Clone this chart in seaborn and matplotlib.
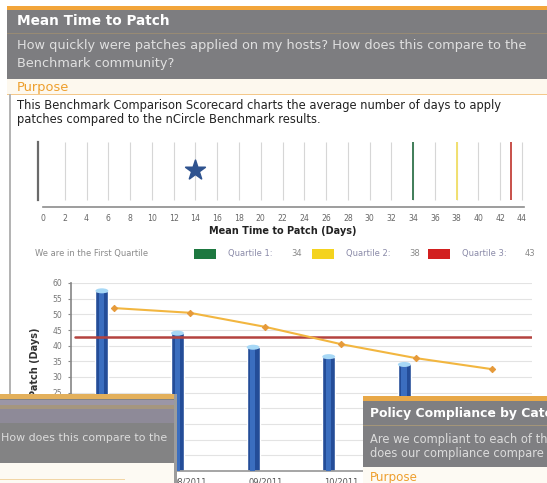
import matplotlib
matplotlib.use("Agg")
import matplotlib.pyplot as plt
from matplotlib.patches import Rectangle, Ellipse
import numpy as np
import pandas as pd
import seaborn as sns

sns.set_theme(style="white")
plt.rcParams['font.family'] = ['DejaVu Sans']

# ---- benchmark scale (days) ----
scale_ticks = list(range(0, 45, 2))
our_mean_days = 14
quartile_labels = ["Quartile 1:", "Quartile 2:", "Quartile 3:"]
quartile_days = [34, 38, 43]
quartile_swatch = ["#1d7840", "#f4d31e", "#d21f1f"]
quartile_line = ["#3f7d58", "#f1e070", "#c8504a"]

# ---- monthly trend ----
periods = ["07/2011", "08/2011", "09/2011", "10/2011", "11/2011", "12/2011"]
host_days = [57.5, 44, 39.5, 36.5, 34]
benchmark_days = [52, 50.5, 46, 40.5, 36, 32.5]
benchmark_q3 = 42.8
y_ticks = list(range(0, 65, 5))

W, H = 547, 483
fig = plt.figure(figsize=(W / 100, H / 100), dpi=100)
fig.patch.set_facecolor("white")

# screen areas covered by the two overlapping report windows (x0, x1, y0)
windows = [(0, 176.5, 394), (363, 547, 396)]


def px_axes(left, top, right, bottom, **kw):
    return fig.add_axes([left / W, 1 - bottom / H, (right - left) / W, (bottom - top) / H], **kw)


def canvas(z):
    ax = fig.add_axes([0, 0, 1, 1], zorder=z)
    ax.set_xlim(0, W)
    ax.set_ylim(H, 0)
    ax.axis("off")
    ax.patch.set_alpha(0)
    return ax


# ---------------- report page ----------------
bg = canvas(0)
bg.add_patch(Rectangle((7, 6), 540, 4, color="#f2a53a", lw=0))
bg.add_patch(Rectangle((7, 10), 540, 69, color="#7d7d80", lw=0))
bg.add_patch(Rectangle((7, 33), 540, 1.2, color="#978a74", lw=0))
bg.add_patch(Rectangle((7, 79), 540, 15, color="#fdf8ee", lw=0))
bg.add_patch(Rectangle((7, 93.5), 540, 1.2, color="#f4c88a", lw=0))
bg.add_patch(Rectangle((9, 94), 2, 389, color="#b4b4b4", lw=0))

bg.text(17, 21, "Mean Time to Patch", color="white", fontweight="bold", fontsize=9.8, va="center")
bg.text(17, 46, "How quickly were patches applied on my hosts? How does this compare to the",
        color="#e0e0e0", fontsize=9.3, va="center")
bg.text(17, 63, "Benchmark community?", color="#e0e0e0", fontsize=9.3, va="center")
bg.text(17, 87, "Purpose", color="#ee9f2e", fontsize=9.4, va="center")
bg.text(17, 105, "This Benchmark Comparison Scorecard charts the average number of days to apply",
        color="#222222", fontsize=8.3, va="center")
bg.text(17, 119, "patches compared to the nCircle Benchmark results.",
        color="#222222", fontsize=8.3, va="center")

# legend row
bg.text(35, 256, "We are in the First Quartile", color="#8a8a8a", fontsize=6, va="baseline")
sw_x = [194, 312, 428]
for lab, val, col, x0 in zip(quartile_labels, quartile_days, quartile_swatch, sw_x):
    bg.add_patch(Rectangle((x0, 249), 22, 10, color=col, lw=0))
    bg.text(x0 + 34, 256, lab, color="#8a8aa8", fontsize=6, va="baseline")
    bg.text(x0 + 97, 256, str(val), color="#8a8a8a", fontsize=6, va="baseline")

# ---------------- benchmark scale ----------------
unit = (522 - 43) / 44.0
sx = px_axes(43 - 0.5 * unit, 142, 43 + 44.5 * unit, 207, zorder=1)
sx.set_xlim(-0.5, 44.5)
sx.set_ylim(0, 1)
sx.patch.set_alpha(0)
for s in ["top", "right"]:
    sx.spines[s].set_visible(False)
sx.spines["bottom"].set_bounds(0, 44.2)
sx.spines["bottom"].set_color("#8c8c8c")
sx.spines["bottom"].set_linewidth(1.2)
sx.spines["left"].set_position(("data", -0.45))
sx.spines["left"].set_bounds(0.11, 1)
sx.spines["left"].set_color("#6a6a6a")
sx.spines["left"].set_linewidth(1.6)
sx.set_yticks([])
sx.vlines(scale_ticks[1:], 0.11, 1, colors="#d6d6d6", lw=0.8)
sx.vlines(quartile_days, 0.11, 1, colors=quartile_line, lw=1.4)
sns.scatterplot(x=[our_mean_days], y=[0.57], marker="*", s=220, color="#2f538f",
                edgecolor="#2f538f", ax=sx, legend=False, zorder=5)
sx.set_xticks(scale_ticks)
sx.set_xticklabels([str(t) for t in scale_ticks], fontsize=5.6, color="#666666")
sx.tick_params(axis="x", length=0, pad=5)
sx.set_xlabel("Mean Time to Patch (Days)", fontsize=7, fontweight="bold", color="#222222", labelpad=2)
sx.set_ylabel("")

# ---------------- monthly trend chart ----------------
cat_px = (492 - 114) / 5.0
bx = px_axes(71, 283, 532, 471, zorder=1)
bx.patch.set_alpha(0)
pos = np.arange(len(periods), dtype=float)
bar_df = pd.DataFrame({"pos": pos[:len(host_days)] - 0.16, "days": host_days})
sns.barplot(data=bar_df, x="pos", y="days", native_scale=True, width=0.17,
            color="#244d98", saturation=1, ax=bx, zorder=2)
for p in bx.patches:
    x0, w, h = p.get_x(), p.get_width(), p.get_height()
    bx.add_patch(Rectangle((x0 + w * 0.28, 0), w * 0.4, h, color="#3b6ebf", lw=0, zorder=3))
    bx.add_patch(Ellipse((x0 + w / 2, h), w, 1.6, color="#a7d8f6", lw=0, zorder=4))

line_df = pd.DataFrame({"pos": pos, "days": benchmark_days})
sns.lineplot(data=line_df, x="pos", y="days", color="#f2b640", lw=1.5, marker="D",
             markersize=3.2, markerfacecolor="#e69a3a", markeredgecolor="#e69a3a", ax=bx, zorder=5)
bx.axhline(benchmark_q3, xmin=4 / 461, xmax=1, color="#b4433f", lw=1.8, zorder=4)

bx.set_xlim(-(114 - 71) / cat_px, 5 + (532 - 492) / cat_px)
bx.set_ylim(0, 60)
bx.set_yticks(y_ticks)
bx.set_yticklabels([str(t) for t in y_ticks], fontsize=5.5, color="#777777")
bx.set_xticks(pos)
bx.set_xticklabels(periods, fontsize=6, color="#555555")
# tick labels that sit behind the overlapping windows are not drawn
for tick_x, lab in zip(114 + pos * cat_px, bx.get_xticklabels()):
    if any(x0 <= tick_x <= x1 for x0, x1, _ in windows):
        lab.set_visible(False)
for tick_y, lab in zip(471 - np.array(y_ticks) * 188 / 60, bx.get_yticklabels()):
    if tick_y > windows[0][2] + 2:
        lab.set_visible(False)
bx.tick_params(axis="y", length=2.5, width=0.8, color="#888888", pad=4, left=True)
bx.tick_params(axis="x", length=0, pad=5)
bx.yaxis.grid(True, color="#e3e3e3", lw=0.8)
bx.set_axisbelow(True)
for s in ["top", "right"]:
    bx.spines[s].set_visible(False)
bx.spines["left"].set_color("#8a8a8a")
bx.spines["bottom"].set_color("#9a9a9a")
bx.set_xlabel("")
bx.set_ylabel("Patch (Days)", fontsize=7, fontweight="bold", color="#333333")
bx.yaxis.set_label_coords(-0.067, 0.58)

# ---------------- overlapping report windows ----------------
ov = canvas(6)
# left window
ov.add_patch(Rectangle((0, 394), 176.5, 89, color="#9c9c9c", lw=0))
ov.add_patch(Rectangle((0, 394), 174, 5, color="#e3b05c", lw=0))
ov.add_patch(Rectangle((0, 399), 174, 64, color="#838384", lw=0))
ov.add_patch(Rectangle((0, 400), 174, 5, color="#9b96a6", lw=0))
ov.add_patch(Rectangle((0, 405), 174, 4, color="#a5967e", lw=0))
ov.add_patch(Rectangle((0, 409), 174, 14, color="#8e8a98", lw=0))
ov.add_patch(Rectangle((0, 463), 174, 20, color="#fdfaf3", lw=0))
ov.add_patch(Rectangle((0, 479), 125, 1, color="#f2d6a6", lw=0))
ov.text(167, 438, "How does this compare to the",
        color="#dcdcdc", fontsize=7.9, va="center", ha="right")

# right window
ov.add_patch(Rectangle((363, 396), 184, 87, color="#fdfaf3", lw=0))
ov.add_patch(Rectangle((363, 396), 184, 5, color="#e8a848", lw=0))
ov.add_patch(Rectangle((363, 401), 184, 66, color="#7f7f82", lw=0))
ov.add_patch(Rectangle((363, 425), 184, 1.2, color="#a39579", lw=0))
ov.text(370, 413, "Policy Compliance by Cate", color="white", fontweight="bold",
        fontsize=8.9, va="center")
ov.text(370, 440, "Are we compliant to each of th",
        color="#dcdcdc", fontsize=8.3, va="center")
ov.text(370, 453, "does our compliance compare",
        color="#dcdcdc", fontsize=8.3, va="center")
ov.text(370, 478, "Purpose", color="#ee9f2e", fontsize=8.6, va="center")

fig.savefig("out.png", dpi=100)
